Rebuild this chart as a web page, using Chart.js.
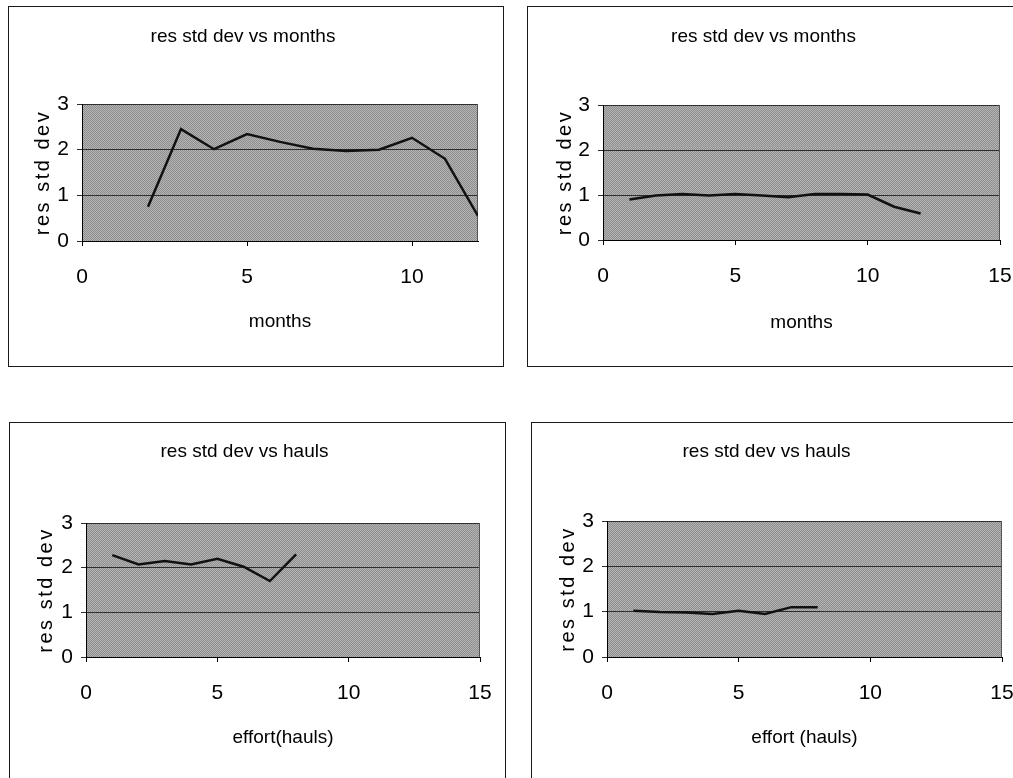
<!DOCTYPE html>
<html>
<head>
<meta charset="utf-8">
<script src="https://cdn.jsdelivr.net/npm/chart.js@4.4.1/dist/chart.umd.min.js"></script>
<style>
  html, body { margin: 0; padding: 0; background: #fff; overflow: hidden; width: 1013px; height: 778px; }
  .panel { position: absolute; }
  .panel canvas { position: absolute; left: 0; top: 0; }
  .frame { position: absolute; left: 0; top: 0; right: 0; bottom: 0; border: 1px solid #1a1a1a; box-sizing: border-box; pointer-events: none; }
</style>
</head>
<body>
<div class="panel" id="p1"><canvas id="c1"></canvas><div class="frame"></div></div>
<div class="panel" id="p2"><canvas id="c2"></canvas><div class="frame"></div></div>
<div class="panel" id="p3"><canvas id="c3"></canvas><div class="frame"></div></div>
<div class="panel" id="p4"><canvas id="c4"></canvas><div class="frame"></div></div>
<script>
// Residual standard deviation by month and by effort (hauls)
const monthsA = [2, 3, 4, 5, 6, 7, 8, 9, 10, 11, 12];
const resSdMonthsA = [0.75, 2.45, 2.01, 2.34, 2.17, 2.02, 1.97, 2.00, 2.26, 1.80, 0.55];

const monthsB = [1, 2, 3, 4, 5, 6, 7, 8, 9, 10, 11, 12];
const resSdMonthsB = [0.90, 0.99, 1.02, 0.99, 1.02, 0.99, 0.95, 1.02, 1.02, 1.01, 0.74, 0.59];

const haulsA = [1, 2, 3, 4, 5, 6, 7, 8];
const resSdHaulsA = [2.28, 2.07, 2.15, 2.07, 2.20, 2.02, 1.70, 2.30];

const haulsB = [1, 2, 3, 4, 5, 6, 7, 8];
const resSdHaulsB = [1.02, 0.99, 0.98, 0.95, 1.02, 0.95, 1.10, 1.10];

const yTickValues = [0, 1, 2, 3];
const monthTicksShort = [0, 5, 10];
const ticksTo15 = [0, 5, 10, 15];

const titleMonths = 'res std dev vs months';
const titleHauls = 'res std dev vs hauls';
const yTitle = 'res std dev';
const xTitleMonths = 'months';
const xTitleHaulsA = 'effort(hauls)';
const xTitleHaulsB = 'effort (hauls)';

const FONT = "'Liberation Sans', Arial, Helvetica, sans-serif";

// Halftone-like grey fill for the plot area
function makePattern(ctx) {
  const c = document.createElement('canvas');
  c.width = 2; c.height = 2;
  const g = c.getContext('2d');
  g.fillStyle = '#b4b4b4'; g.fillRect(0, 0, 2, 2);
  g.fillStyle = '#8e8e8e'; g.fillRect(0, 0, 1, 1); g.fillRect(1, 1, 1, 1);
  return ctx.createPattern(c, 'repeat');
}

const plotFill = {
  id: 'plotFill',
  beforeDraw(chart) {
    const { ctx, chartArea: a } = chart;
    ctx.save();
    ctx.fillStyle = makePattern(ctx);
    ctx.fillRect(a.left, a.top, a.right - a.left, a.bottom - a.top);
    ctx.restore();
  },
  beforeDatasetsDraw(chart) {
    const { ctx, chartArea: a } = chart;
    ctx.save();
    ctx.strokeStyle = '#555';
    ctx.lineWidth = 1;
    ctx.beginPath();
    ctx.moveTo(Math.round(a.right) - 0.5, a.top);
    ctx.lineTo(Math.round(a.right) - 0.5, a.bottom);
    ctx.stroke();
    ctx.restore();
  }
};

// Widen the rotated axis title a little with letter spacing
const spacedYTitle = {
  id: 'spacedYTitle',
  beforeDraw(chart) {
    const s = chart.scales.y;
    if (s && !s._spacedTitle) {
      const orig = s.drawTitle.bind(s);
      s.drawTitle = function () {
        const ctx = this.ctx;
        const prev = ctx.letterSpacing;
        ctx.letterSpacing = '2.5px';
        orig();
        ctx.letterSpacing = prev || '0px';
      };
      s._spacedTitle = true;
    }
  }
};

function makePanel(n, box, g, xs, ys, xMax, xTicks, title, xTitle) {
  const panel = document.getElementById('p' + n);
  panel.style.left = box.left + 'px';
  panel.style.top = box.top + 'px';
  panel.style.width = box.width + 'px';
  panel.style.height = box.height + 'px';
  const canvas = document.getElementById('c' + n);
  canvas.width = box.width;
  canvas.height = box.height;

  const points = xs.map((x, i) => ({ x: x, y: ys[i] }));

  return new Chart(canvas, {
    type: 'line',
    data: {
      datasets: [{
        data: points,
        borderColor: '#111',
        borderWidth: 2.5,
        pointRadius: 0,
        tension: 0,
        fill: false
      }]
    },
    options: {
      responsive: false,
      animation: false,
      devicePixelRatio: 1,
      layout: { padding: { left: 0, right: g.rightPad, top: 0, bottom: 0 } },
      plugins: {
        legend: { display: false },
        tooltip: { enabled: false },
        title: {
          display: true,
          text: title,
          color: '#000',
          font: { family: FONT, size: 19, weight: 'normal' },
          padding: { top: g.titleTop, bottom: g.titleBottom }
        }
      },
      scales: {
        x: {
          type: 'linear',
          min: 0,
          max: xMax,
          afterBuildTicks: (s) => { s.ticks = xTicks.map(v => ({ value: v })); },
          afterFit: (s) => { s.height = g.xH; },
          grid: { drawOnChartArea: false, drawTicks: true, tickLength: 5, color: '#000' },
          border: { display: true, color: '#000', width: 1 },
          // tall line box drops the labels below the axis without widening side padding
          ticks: { color: '#000', font: { family: FONT, size: 21, lineHeight: '57px' }, padding: 3, maxRotation: 0, autoSkip: false },
          title: {
            display: true,
            text: xTitle,
            color: '#000',
            font: { family: FONT, size: 19 },
            padding: { top: 0, bottom: g.xTitleBottom }
          }
        },
        y: {
          min: 0,
          max: 3,
          afterBuildTicks: (s) => { s.ticks = yTickValues.map(v => ({ value: v })); },
          afterFit: (s) => { s.width = g.yW; },
          grid: { color: '#2e2e2e', lineWidth: 1, drawTicks: true, tickLength: 5 },
          border: { display: true, color: '#000', width: 1 },
          ticks: { color: '#000', font: { family: FONT, size: 21 }, padding: 8 },
          title: {
            display: true,
            text: yTitle,
            color: '#000',
            font: { family: FONT, size: 20 },
            padding: { top: g.yTitleTop, bottom: 0 }
          }
        }
      }
    },
    plugins: [plotFill, spacedYTitle]
  });
}

makePanel(1,
  { left: 8, top: 6, width: 496, height: 361 },
  { yW: 74, rightPad: 26, xH: 126, titleTop: 19, titleBottom: 56.2, xTitleBottom: 34.2, yTitleTop: 23 },
  monthsA, resSdMonthsA, 12, monthTicksShort, titleMonths, xTitleMonths);

makePanel(2,
  { left: 527, top: 6, width: 496, height: 361 },
  { yW: 76, rightPad: 23, xH: 127, titleTop: 19.3, titleBottom: 56.9, xTitleBottom: 32.6, yTitleTop: 26 },
  monthsB, resSdMonthsB, 15, ticksTo15, titleMonths, xTitleMonths);

makePanel(3,
  { left: 9, top: 422, width: 497, height: 361 },
  { yW: 77, rightPad: 26, xH: 126, titleTop: 18.1, titleBottom: 60.1, xTitleBottom: 33.9, yTitleTop: 25.7 },
  haulsA, resSdHaulsA, 15, ticksTo15, titleHauls, xTitleHaulsA);

makePanel(4,
  { left: 531, top: 422, width: 494, height: 361 },
  { yW: 76, rightPad: 23, xH: 126, titleTop: 18, titleBottom: 58.2, xTitleBottom: 34.2, yTitleTop: 25.3 },
  haulsB, resSdHaulsB, 15, ticksTo15, titleHauls, xTitleHaulsB);
</script>
</body>
</html>
